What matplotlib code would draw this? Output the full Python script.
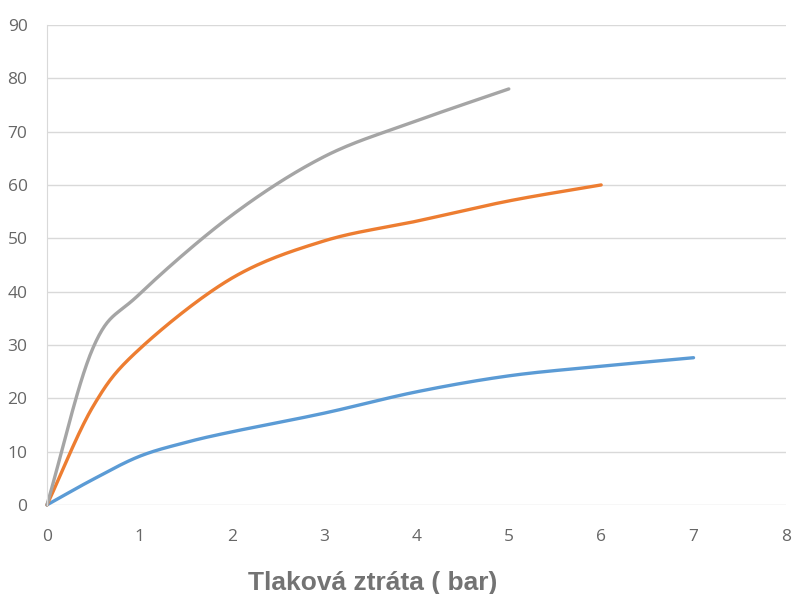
import numpy as np
import matplotlib.pyplot as plt

# values
x_blue = [0, 0.5, 1, 1.5, 2, 3, 4, 5, 6, 7]
y_blue = [0, 4.8, 9.1, 11.7, 13.7, 17.2, 21.2, 24.2, 26.0, 27.6]

x_orange = [0, 0.5, 1, 2, 3, 4, 5, 6]
y_orange = [0, 18.5, 29.2, 42.5, 49.5, 53.2, 57.0, 60.0]

x_gray = [0, 0.5, 1, 2, 3, 4, 5]
y_gray = [0, 29.5, 39.5, 54.3, 65.3, 72.0, 78.0]

xticks = [0, 1, 2, 3, 4, 5, 6, 7, 8]
yticks = [0, 10, 20, 30, 40, 50, 60, 70, 80, 90]


def smooth(xs, ys, n=30):
    # Catmull-Rom style smoothing like Excel's "smoothed line"
    xs = np.asarray(xs, float)
    ys = np.asarray(ys, float)
    px = np.r_[2 * xs[0] - xs[1], xs, 2 * xs[-1] - xs[-2]]
    py = np.r_[2 * ys[0] - ys[1], ys, 2 * ys[-1] - ys[-2]]
    ox, oy = [], []
    t = np.linspace(0, 1, n)
    for i in range(1, len(px) - 2):
        p0, p1, p2, p3 = [np.array([px[j], py[j]]) for j in (i - 1, i, i + 1, i + 2)]
        c1 = p1 + (p2 - p0) / 6
        c2 = p2 - (p3 - p1) / 6
        b = ((1 - t) ** 3)[:, None] * p1 + (3 * (1 - t) ** 2 * t)[:, None] * c1 \
            + (3 * (1 - t) * t ** 2)[:, None] * c2 + (t ** 3)[:, None] * p2
        ox.extend(b[:, 0])
        oy.extend(b[:, 1])
    return ox, oy


fig = plt.figure(figsize=(7.92, 5.94), dpi=100)
ax = fig.add_axes([0.0593, 0.150, 0.933, 0.808])

for xs, ys, c in [(x_blue, y_blue, '#5b9bd5'),
                  (x_orange, y_orange, '#ed7d31'),
                  (x_gray, y_gray, '#a5a5a5')]:
    sx, sy = smooth(xs, ys)
    ax.plot(sx, sy, color=c, lw=2.4, solid_capstyle='round', clip_on=False)

ax.set_xlim(0, 8)
ax.set_ylim(0, 90)
ax.set_xticks(xticks)
ax.set_yticks(yticks)
ax.grid(axis='y', color='#d9d9d9', lw=1)
ax.set_axisbelow(True)
for s in ['top', 'right', 'bottom']:
    ax.spines[s].set_visible(False)
ax.spines['left'].set_color('#d9d9d9')
ax.tick_params(length=0, labelsize=12.5, labelcolor='#666666')
ax.tick_params(axis='y', pad=14)
ax.tick_params(axis='x', pad=17)
for lab in ax.get_xticklabels() + ax.get_yticklabels():
    lab.set_family('Open Sans')

# axis title sits left of the plot centre in the original
fig.text(0.470, 0.007, 'Tlaková ztráta ( bar)', fontsize=19, fontweight='bold',
         color='#737373', family='Liberation Sans', ha='center', va='baseline')

fig.savefig('out.png', dpi=100)
